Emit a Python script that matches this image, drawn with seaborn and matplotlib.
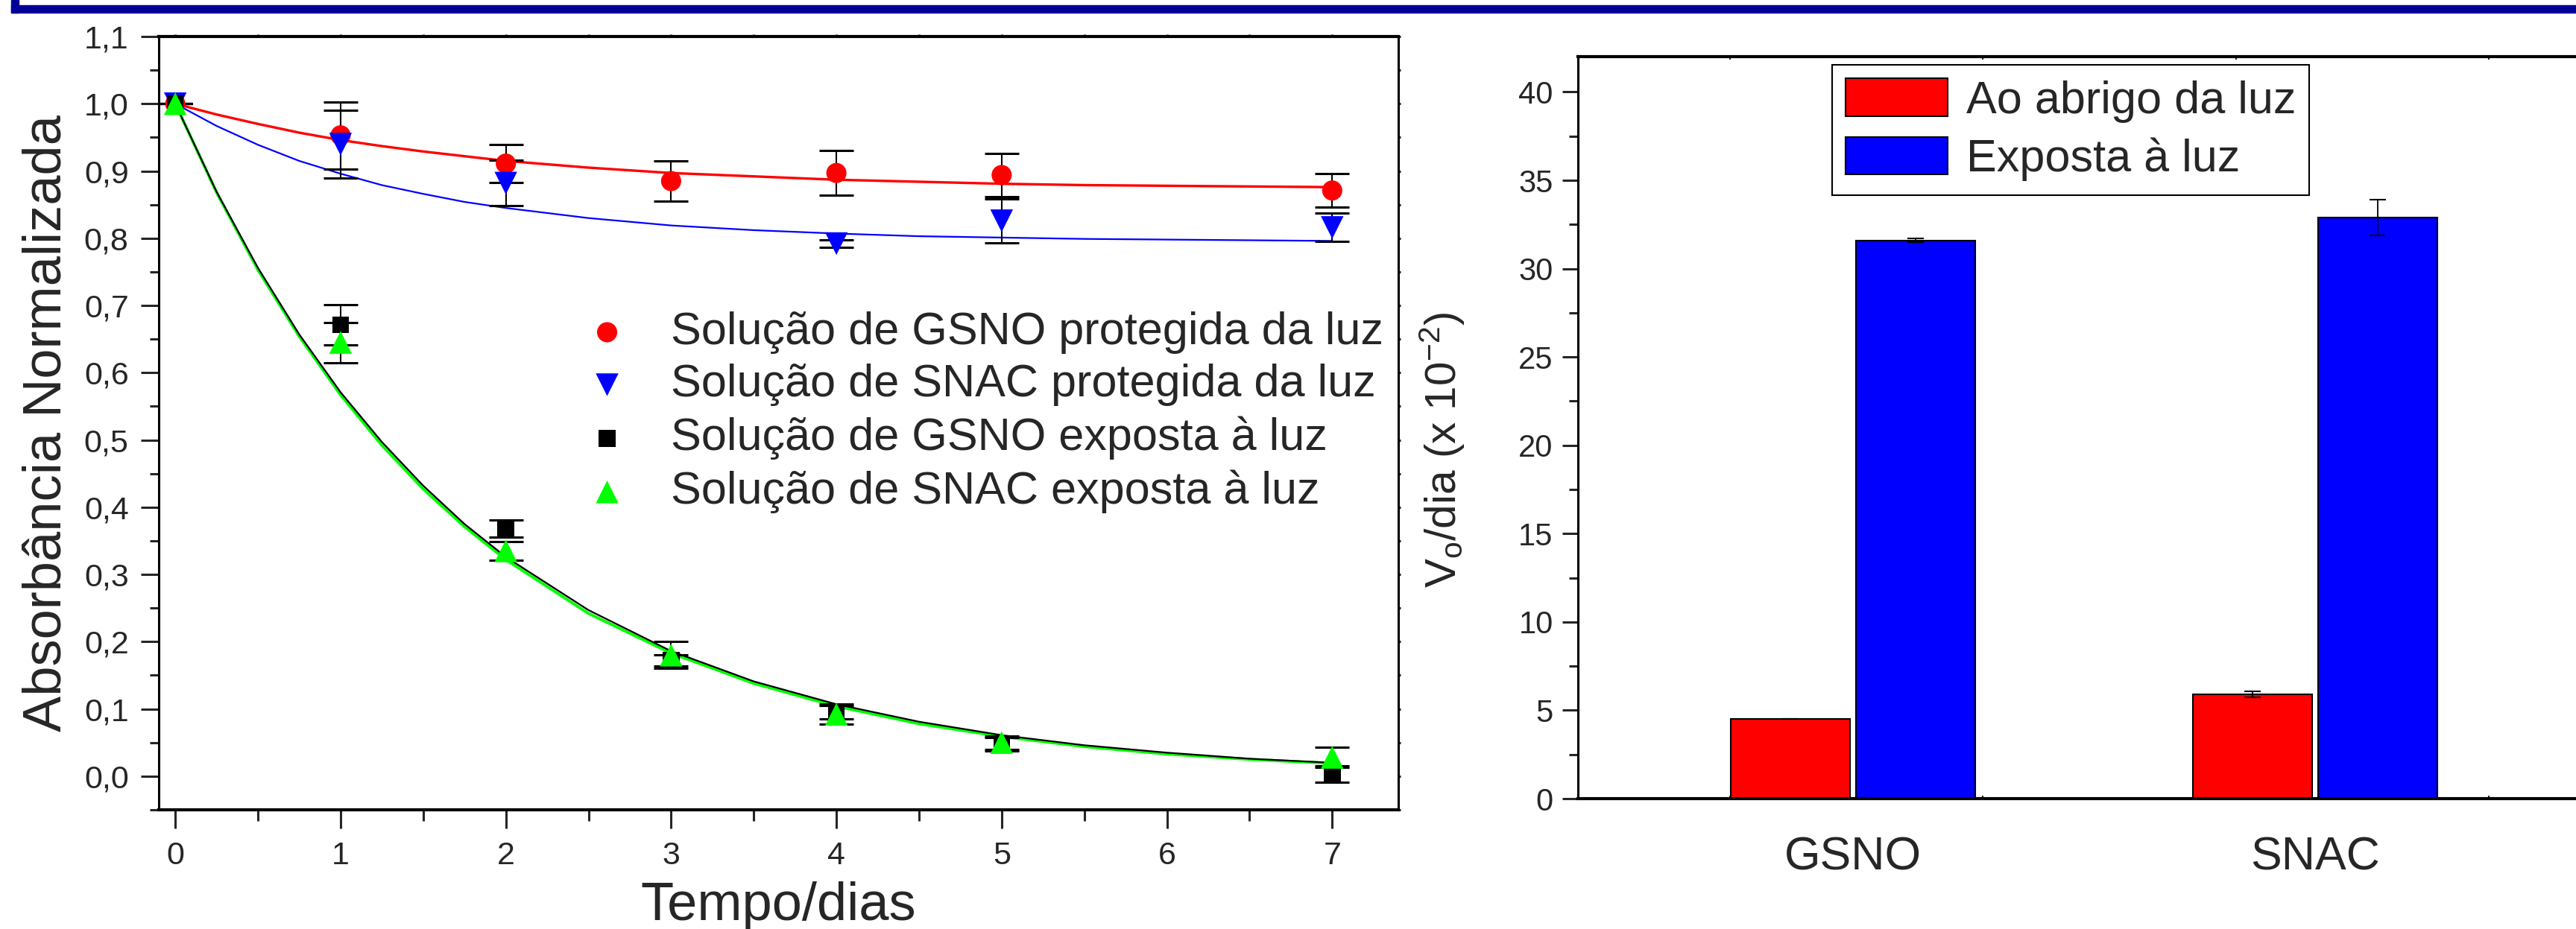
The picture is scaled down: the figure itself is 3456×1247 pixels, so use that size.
import matplotlib
matplotlib.use("Agg")
import matplotlib.pyplot as plt
import matplotlib.ticker as mticker
from matplotlib.patches import Rectangle
import pandas as pd
import seaborn as sns

# -----------------------------
# Data
# -----------------------------
t_gsno = [0, 1, 2, 3, 4, 5, 7]
gsno_dark = [1.0, 0.953, 0.911, 0.885, 0.897, 0.894, 0.871]
gsno_dark_err = [0.0, 0.05, 0.028, 0.03, 0.033, 0.032, 0.025]

t_snac = [0, 1, 2, 4, 5, 7]
snac_dark = [1.0, 0.94, 0.882, 0.792, 0.826, 0.816]
snac_dark_err = [0.0, 0.05, 0.034, 0.006, 0.033, 0.021]

gsno_light = [1.0, 0.671, 0.368, 0.172, 0.095, 0.047, 0.003]
gsno_light_err = [0.0, 0.03, 0.013, 0.008, 0.01, 0.01, 0.012]

snac_light = [1.0, 0.645, 0.335, 0.18, 0.092, 0.05, 0.028]
snac_light_err = [0.0, 0.03, 0.014, 0.02, 0.015, 0.01, 0.015]

# fitted curves, read at fixed times
t_fit = [0, 0.25, 0.5, 0.75, 1, 1.25, 1.5, 1.75, 2, 2.5, 3, 3.5, 4, 4.5, 5, 5.5, 6, 6.5, 7]
fit_gsno_dark = [1.0, 0.984, 0.970, 0.957, 0.946, 0.937, 0.929, 0.922, 0.915, 0.905, 0.897,
                 0.892, 0.887, 0.884, 0.881, 0.879, 0.878, 0.877, 0.876]
fit_snac_dark = [1.0, 0.967, 0.939, 0.915, 0.896, 0.879, 0.866, 0.854, 0.845, 0.830, 0.819,
                 0.812, 0.807, 0.803, 0.801, 0.799, 0.798, 0.797, 0.796]
fit_gsno_light = [1.0, 0.869, 0.756, 0.657, 0.571, 0.497, 0.432, 0.375, 0.326, 0.247, 0.186,
                  0.141, 0.107, 0.081, 0.061, 0.046, 0.035, 0.026, 0.020]
fit_snac_light = [1.0, 0.868, 0.753, 0.654, 0.567, 0.492, 0.427, 0.371, 0.322, 0.242, 0.183,
                  0.138, 0.104, 0.078, 0.059, 0.044, 0.033, 0.025, 0.019]

compounds = ["GSNO", "SNAC"]
conditions = ["Ao abrigo da luz", "Exposta à luz"]
rate_dark = [4.5, 5.9]
rate_dark_err = [0.0, 0.18]
rate_light = [31.6, 32.9]
rate_light_err = [0.12, 1.0]

labels_left = ["Solução de GSNO protegida da luz", "Solução de SNAC protegida da luz",
               "Solução de GSNO exposta à luz", "Solução de SNAC exposta à luz"]

# -----------------------------
# Style
# -----------------------------
sns.set_style("ticks")
plt.rcParams['font.family'] = ['Liberation Sans', 'DejaVu Sans']
plt.rcParams['mathtext.fontset'] = 'custom'
plt.rcParams['mathtext.rm'] = 'Liberation Sans'
plt.rcParams['mathtext.it'] = 'Liberation Sans'

W, H = 3456, 1247
fig = plt.figure(figsize=(W / 100, H / 100), dpi=100)

# blue frame at the top
blue = "#000099"
fig.patches.append(Rectangle((15 / W, 1 - 17 / H), 1.0, 10 / H, transform=fig.transFigure,
                             color=blue, zorder=0))
fig.patches.append(Rectangle((15 / W, 1 - 17 / H), 10 / W, 17 / H, transform=fig.transFigure,
                             color=blue, zorder=0))

# -----------------------------
# Left: absorbance vs time
# -----------------------------
ax = fig.add_axes([213 / W, 1 - 1087 / H, 1663 / W, 1038 / H])

series = [
    (t_gsno, gsno_dark, gsno_dark_err, fit_gsno_dark, "#ff0000", "o", 380, 2.4),
    (t_snac, snac_dark, snac_dark_err, fit_snac_dark, "#0000ff", "v", 480, 1.6),
    (t_gsno, gsno_light, gsno_light_err, fit_gsno_light, "#000000", "s", 260, 1.6),
    (t_gsno, snac_light, snac_light_err, fit_snac_light, "#00ff00", "^", 480, 2.8),
]
for i in [0, 1, 3, 2]:
    t, y, e, fit, col, mk, s, lw = series[i]
    sns.lineplot(x=t_fit, y=fit, color=col, lw=lw, ax=ax, legend=False, zorder=2)

for (t, y, e, fit, col, mk, s, lw), lab in zip(series, labels_left):
    ax.errorbar(t, y, yerr=e, fmt="none", ecolor="black", elinewidth=1.5,
                capsize=16.5, capthick=2.2, zorder=3)
    sns.scatterplot(x=t, y=y, color=col, marker=mk, s=s, edgecolor="none",
                    ax=ax, label=lab, zorder=4)

ax.set_xlim(-0.1, 7.4)
ax.set_ylim(-0.05, 1.1)
ax.xaxis.set_major_locator(mticker.MultipleLocator(1))
ax.xaxis.set_minor_locator(mticker.MultipleLocator(0.5))
ax.yaxis.set_major_locator(mticker.MultipleLocator(0.1))
ax.yaxis.set_minor_locator(mticker.MultipleLocator(0.05))
ax.yaxis.set_major_formatter(mticker.FuncFormatter(lambda v, p: f"{v:.1f}".replace(".", ",")))
ax.tick_params(axis="both", which="major", labelsize=31, width=2.2, length=17, pad=12,
               direction="out")
ax.tick_params(axis="both", which="minor", width=2.2, length=9, direction="out")
ax.tick_params(axis="x", which="major", length=18, pad=12)
ax.tick_params(axis="x", which="minor", length=11)
ax.tick_params(which="both", top=True, right=True, labeltop=False, labelright=False)
# tiny mirrored ticks on top and right
for t_ in ax.xaxis.get_major_ticks() + ax.xaxis.get_minor_ticks():
    t_.tick2line.set_markersize(2)
for t_ in ax.yaxis.get_major_ticks() + ax.yaxis.get_minor_ticks():
    t_.tick2line.set_markersize(2)
for side in ["top", "bottom"]:
    ax.spines[side].set_linewidth(3)
for side in ["left", "right"]:
    ax.spines[side].set_linewidth(2.2)
ax.spines[:].set_color("black")
ax.set_xlabel("Tempo/dias", fontsize=52, labelpad=10)
ax.set_ylabel("Absorbância Normalizada", fontsize=52, labelpad=12)

ax.legend(loc="upper left", bbox_to_anchor=(784 / W, 1 - 418 / H),
          bbox_transform=fig.transFigure, frameon=False, fontsize=44,
          handlelength=1.0, handletextpad=0.9, labelspacing=0.22,
          borderpad=0, borderaxespad=0)

# -----------------------------
# Right: bar chart of rates
# -----------------------------
bars = pd.DataFrame({
    "composto": compounds * 2,
    "condicao": [conditions[0]] * 2 + [conditions[1]] * 2,
    "taxa": rate_dark + rate_light,
})
errs = [rate_dark_err, rate_light_err]

ax2 = fig.add_axes([2117 / W, 1 - 1072 / H, 1353 / W, 996 / H])
sns.barplot(data=bars, x="composto", y="taxa", hue="condicao", hue_order=conditions,
            palette=["#ff0000", "#0000ff"], saturation=1, width=0.54, gap=0.044,
            edgecolor="black", linewidth=1.5, errorbar=None, ax=ax2)
for cont, err in zip(ax2.containers, errs):
    xs = [p.get_x() + p.get_width() / 2 for p in cont.patches]
    ys = [p.get_height() for p in cont.patches]
    ax2.errorbar(xs, ys, yerr=err, fmt="none", ecolor="black", elinewidth=1.3,
                 capsize=8, capthick=1.5, zorder=5)

ax2.set_xlim(-0.595, 1.587)
ax2.set_ylim(0, 42)
ax2.yaxis.set_major_locator(mticker.MultipleLocator(5))
ax2.yaxis.set_minor_locator(mticker.MultipleLocator(2.5))
ax2.xaxis.set_minor_locator(mticker.FixedLocator([-0.266, 0.28, 0.829, 1.376]))
ax2.tick_params(axis="y", which="major", labelsize=30, width=2.2, length=15, pad=9)
ax2.tick_params(axis="y", which="minor", width=2.2, length=8.5)
ax2.tick_params(axis="x", which="major", labelsize=45, length=0, pad=36)
ax2.tick_params(axis="x", which="minor", length=3, width=1.5, top=True, direction="in")
for side in ["top", "bottom"]:
    ax2.spines[side].set_linewidth(3)
ax2.spines["left"].set_linewidth(2.2)
ax2.spines["right"].set_visible(False)
ax2.spines[:].set_color("black")
ax2.set_xlabel("")
ax2.set_ylabel(r"V$_{\mathrm{o}}$/dia (x 10$^{\mathrm{-2}}$)", fontsize=42)
ax2.yaxis.set_label_coords((1968 - 2117) / 1353, 0.47)

h2, l2 = ax2.get_legend_handles_labels()
leg2 = ax2.legend(h2, l2, loc="upper left", bbox_to_anchor=(2458 / W, 1 - 87 / H),
                  bbox_transform=fig.transFigure, fontsize=44, frameon=True,
                  fancybox=False, framealpha=1, edgecolor="black",
                  handlelength=2.23, handleheight=0.89, handletextpad=0.41,
                  labelspacing=0.32, borderpad=0.3, borderaxespad=0)
leg2.get_frame().set_linewidth(1.5)

fig.savefig("out.png", dpi=100)
